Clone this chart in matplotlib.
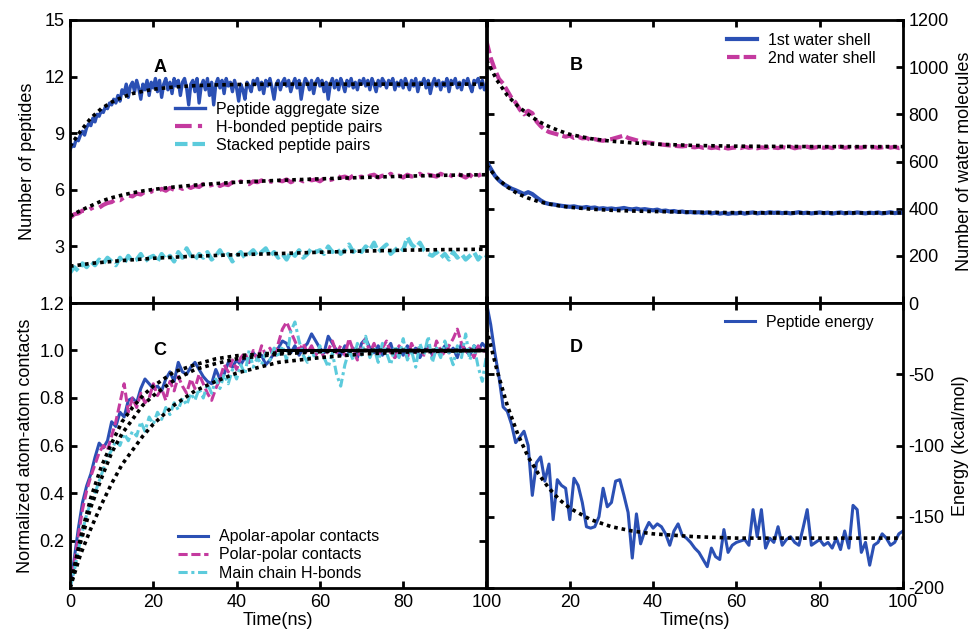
import numpy as np
import matplotlib
matplotlib.use("Agg")
import matplotlib.pyplot as plt

plt.rcParams['font.family'] = ['Liberation Sans', 'DejaVu Sans']
plt.rcParams['axes.unicode_minus'] = False

BLUE = "#2b50b4"
MAGENTA = "#c43a9f"
CYAN = "#5ccbdc"

# ---------------- Panel A data ----------------
tA_fine = np.arange(0, 100.01, 0.5)
agg_size = [
    8.1, 8.4, 8.3, 8.7, 8.6, 8.9, 9.1, 8.9, 9.3, 9.5, 9.4, 9.8, 9.6, 10.0, 9.9, 10.2, 10.1, 10.4, 10.3, 10.6,
    10.5, 10.8, 10.6, 11.0, 10.7, 11.3, 11.1, 11.6, 10.9, 11.5, 11.7, 11.2, 11.8, 11.4, 10.8, 11.6, 11.3, 11.8, 11.0, 11.7,
    11.4, 11.9, 11.2, 11.8, 10.9, 11.6, 11.9, 11.3, 11.7, 11.1, 11.9, 11.5, 11.8, 11.0, 11.7, 11.9, 11.4, 10.5, 11.6, 11.8,
    11.2, 11.9, 10.6, 11.5, 11.8, 11.3, 11.9, 11.0, 11.7, 10.5, 11.6, 11.9, 11.4, 11.8, 11.1, 11.9, 11.5, 11.7, 11.2, 11.8,
    11.4, 10.7, 11.6, 11.3, 10.8, 11.7, 11.5, 11.2, 11.8, 11.6, 11.9, 11.3, 11.7, 11.1, 11.8, 11.5, 11.9, 11.4, 10.8, 11.6,
    11.8, 11.3, 11.7, 11.9, 11.5, 11.8, 11.2, 11.6, 11.9, 11.4, 11.8, 10.8, 11.5, 11.9, 11.7, 11.3, 11.8, 11.1, 11.7, 11.9,
    11.5, 11.8, 11.2, 11.7, 10.8, 11.6, 11.9, 11.4, 11.8, 11.3, 11.9, 11.6, 11.2, 11.8, 11.5, 11.9, 11.4, 11.7, 11.3, 11.8,
    11.6, 11.9, 11.5, 11.8, 11.3, 11.9, 11.6, 11.2, 11.8, 11.5, 11.9, 11.7, 11.4, 11.8, 11.6, 11.9, 11.3, 11.7, 11.5, 11.8,
    11.4, 11.9, 11.6, 11.3, 11.8, 11.5, 11.9, 11.2, 11.7, 11.6, 11.9, 11.4, 11.8, 11.1, 11.6, 11.9, 11.5, 11.8, 11.3, 11.7,
    11.5, 11.9, 11.2, 11.8, 11.6, 11.9, 11.4, 11.7, 11.3, 11.8, 11.6, 11.9, 11.5, 11.2, 11.8, 11.7, 11.9, 11.4, 11.8, 11.3, 11.6,
]
t1 = np.arange(0, 101, 1)
hbond_pairs = [
    4.5, 4.7, 4.75, 4.9, 4.85, 5.0, 5.1, 5.05, 5.2, 5.3,
    5.35, 5.5, 5.45, 5.6, 5.7, 5.65, 5.8, 5.75, 5.9, 5.85,
    5.95, 5.9, 6.05, 5.95, 6.1, 6.0, 6.15, 6.05, 6.2, 6.1,
    6.2, 6.15, 6.3, 6.2, 6.25, 6.35, 6.2, 6.3, 6.25, 6.4,
    6.3, 6.45, 6.35, 6.3, 6.45, 6.4, 6.5, 6.35, 6.45, 6.4,
    6.5, 6.45, 6.55, 6.4, 6.5, 6.55, 6.45, 6.6, 6.5, 6.55,
    6.45, 6.6, 6.5, 6.55, 6.75, 6.65, 6.7, 6.6, 6.75, 6.65,
    6.7, 6.6, 6.75, 6.8, 6.65, 6.75, 6.7, 6.85, 6.7, 6.75,
    6.65, 6.8, 6.7, 6.75, 6.85, 6.7, 6.8, 6.75, 6.7, 6.85,
    6.75, 6.8, 6.7, 6.85, 6.75, 6.65, 6.8, 6.6, 6.75, 6.85, 6.8,
]
stacked_pairs = [
    1.6, 1.9, 1.7, 2.1, 1.9, 2.2, 2.0, 2.3, 2.1, 2.4,
    2.2, 2.0, 2.4, 2.1, 2.5, 2.2, 2.3, 2.6, 2.2, 2.4,
    2.5, 2.2, 2.6, 2.3, 2.5, 2.2, 2.7, 2.4, 2.9, 2.5,
    2.3, 2.6, 2.4, 2.7, 2.3, 2.5, 2.8, 2.4, 2.6, 2.2,
    2.5, 2.7, 2.4, 2.6, 2.8, 2.5, 2.7, 2.9, 2.5, 2.7,
    2.4, 2.6, 2.3, 2.7, 2.5, 2.8, 2.4, 2.6, 2.9, 2.7,
    2.8, 2.6, 3.0, 2.7, 2.9, 2.6, 2.8, 3.1, 2.7, 2.9,
    2.7, 3.0, 2.8, 3.2, 2.7, 2.9, 3.1, 2.6, 2.8, 3.0,
    2.8, 3.5, 3.1, 2.9, 3.2, 2.8, 2.6, 2.5, 2.7, 2.4,
    2.6, 2.3, 2.7, 2.4, 2.6, 2.3, 2.5, 2.7, 2.3, 2.6, 2.5,
]
fit_t = [0, 2.5, 5, 7.5, 10, 12.5, 15, 17.5, 20, 25, 30, 35, 40, 50, 60, 70, 80, 90, 100]
fitA_agg = [8.3, 9.1, 9.8, 10.3, 10.65, 10.9, 11.1, 11.22, 11.33, 11.45, 11.52, 11.56, 11.58, 11.6, 11.6, 11.6, 11.6, 11.6, 11.6]
fitA_hb = [4.6, 4.9, 5.15, 5.4, 5.58, 5.72, 5.84, 5.94, 6.02, 6.15, 6.25, 6.33, 6.4, 6.5, 6.58, 6.65, 6.72, 6.77, 6.8]
fitA_st = [1.95, 2.02, 2.1, 2.15, 2.2, 2.25, 2.29, 2.33, 2.37, 2.43, 2.48, 2.52, 2.56, 2.62, 2.69, 2.75, 2.8, 2.83, 2.85]

# ---------------- Panel B data ----------------
shell2 = [
    1110, 1040, 990, 950, 930, 900, 870, 850, 820, 800,
    815, 805, 770, 750, 735, 725, 720, 715, 710, 705,
    710, 700, 705, 698, 700, 692, 695, 690, 688, 692,
    695, 700, 705, 710, 700, 695, 690, 685, 682, 680,
    678, 675, 672, 670, 668, 667, 665, 664, 666, 662,
    660, 663, 658, 661, 657, 660, 656, 659, 655, 658,
    660, 657, 662, 658, 661, 656, 660, 658, 662, 659,
    657, 661, 658, 662, 656, 660, 659, 663, 657, 660,
    662, 658, 661, 657, 660, 663, 658, 661, 656, 660,
    659, 662, 657, 661, 658, 660, 664, 659, 662, 657, 660,
]
shell1 = [
    600, 570, 540, 520, 505, 495, 485, 478, 470, 462,
    470, 462, 448, 435, 425, 420, 418, 415, 412, 410,
    408, 410, 406, 404, 407, 403, 405, 400, 402, 399,
    401, 398, 400, 403, 399, 397, 400, 396, 398, 395,
    393, 396, 390, 392, 388, 390, 386, 388, 384, 386,
    383, 385, 381, 384, 380, 383, 379, 382, 378, 381,
    380, 383, 379, 382, 384, 380, 383, 381, 385, 382,
    384, 381, 383, 380, 382, 385, 381, 383, 380, 382,
    384, 381, 383, 379, 382, 384, 380, 383, 381, 384,
    382, 380, 383, 381, 384, 380, 382, 385, 381, 383, 382,
]
fitB_shell2 = [1030, 945, 880, 835, 800, 770, 748, 730, 715, 697, 686, 679, 674, 668, 665, 664, 663, 663, 663]
fitB_shell1 = [585, 530, 492, 463, 445, 430, 420, 412, 406, 398, 393, 390, 388, 385, 383, 382, 382, 382, 382]

# ---------------- Panel C data ----------------
apolar = [
    0.0, 0.12, 0.25, 0.36, 0.43, 0.48, 0.55, 0.61, 0.59, 0.62,
    0.70, 0.68, 0.74, 0.72, 0.79, 0.80, 0.78, 0.84, 0.88, 0.86,
    0.84, 0.85, 0.83, 0.88, 0.91, 0.87, 0.95, 0.91, 0.90, 0.93,
    0.95, 0.92, 0.89, 0.87, 0.86, 0.92, 0.88, 0.90, 0.95, 0.93,
    0.96, 0.94, 0.97, 0.95, 0.99, 0.97, 0.98, 0.94, 0.96, 0.99,
    1.01, 1.04, 1.03, 0.99, 1.02, 0.98, 1.01, 1.03, 1.07, 1.04,
    1.01, 0.99, 1.06, 1.03, 1.00, 0.98, 1.02, 0.99, 1.01, 0.97,
    1.03, 1.05, 1.01, 0.99, 1.02, 0.98, 1.00, 1.03, 0.97, 1.01,
    0.98, 1.02, 0.99, 1.01, 0.97, 1.00, 1.02, 0.98, 1.01, 0.99,
    1.02, 0.99, 1.01, 0.97, 1.03, 1.00, 0.98, 1.02, 1.00, 1.03, 1.01,
]
polar = [
    0.0, 0.10, 0.22, 0.33, 0.41, 0.47, 0.52, 0.57, 0.60, 0.58,
    0.64, 0.70, 0.78, 0.86, 0.74, 0.80, 0.76, 0.82, 0.78, 0.80,
    0.86, 0.81, 0.84, 0.79, 0.87, 0.83, 0.89, 0.85, 0.82, 0.88,
    0.84, 0.90, 0.86, 0.82, 0.79, 0.84, 0.88, 0.94, 0.91, 0.96,
    0.92, 0.97, 0.99, 0.95, 1.00, 0.96, 1.02, 0.98, 1.01, 0.97,
    1.03, 1.09, 1.12, 1.08, 1.04, 1.00, 1.03, 0.99, 1.02, 0.98,
    1.01, 0.97, 1.00, 1.04, 0.99, 1.02, 0.98, 1.05, 1.00, 0.96,
    1.02, 1.05, 0.99, 1.03, 0.98, 1.01, 1.04, 0.99, 0.97, 1.02,
    1.00, 0.97, 1.03, 0.99, 1.02, 0.98, 1.01, 0.97, 1.04, 1.00,
    0.98, 1.02, 1.05, 1.09, 1.03, 0.99, 1.01, 0.97, 1.02, 0.99, 1.01,
]
mainchain = [
    0.0, 0.07, 0.16, 0.24, 0.31, 0.36, 0.40, 0.45, 0.50, 0.55,
    0.58, 0.62, 0.60, 0.65, 0.62, 0.66, 0.64, 0.70, 0.66, 0.72,
    0.69, 0.74, 0.71, 0.76, 0.73, 0.78, 0.75, 0.80, 0.77, 0.82,
    0.79, 0.84, 0.80, 0.86, 0.82, 0.88, 0.84, 0.90, 0.86, 0.92,
    0.88, 0.94, 0.90, 1.00, 0.93, 0.97, 0.94, 0.99, 0.96, 1.01,
    0.97, 1.02, 0.96, 1.08, 1.12, 1.04, 0.98, 0.95, 1.00, 0.96,
    1.02, 0.97, 0.93, 0.99, 0.90, 0.85, 0.94, 1.00, 0.96, 1.03,
    0.98, 1.06, 0.97, 1.01, 0.95, 1.03, 0.99, 0.94, 1.02, 0.97,
    1.05, 0.96, 1.00, 0.93, 1.03, 0.98, 1.06, 0.95, 1.01, 0.97,
    1.04, 0.99, 0.94, 1.02, 0.97, 1.07, 0.96, 1.02, 0.93, 0.87, 0.98,
]
fitC_apolar = [0, 0.21, 0.38, 0.51, 0.61, 0.70, 0.76, 0.81, 0.85, 0.91, 0.94, 0.965, 0.978, 0.99, 0.997, 1.0, 1.0, 1.0, 1.0]
fitC_polar = [0, 0.19, 0.34, 0.46, 0.57, 0.65, 0.71, 0.77, 0.81, 0.875, 0.92, 0.945, 0.965, 0.985, 0.995, 1.0, 1.0, 1.0, 1.0]
fitC_main = [0, 0.14, 0.25, 0.35, 0.44, 0.52, 0.58, 0.64, 0.69, 0.77, 0.83, 0.87, 0.905, 0.95, 0.97, 0.985, 0.993, 0.997, 1.0]
plateau_t = [50, 100]
plateau_v = [1.0, 1.0]

# ---------------- Panel D data ----------------
energy = [
    0, -15, -35, -52, -73, -76, -85, -98, -94, -90,
    -100, -135, -112, -108, -125, -113, -152, -124, -128, -130,
    -152, -123, -128, -140, -157, -158, -157, -150, -130, -143,
    -140, -125, -124, -135, -147, -179, -148, -169, -160, -154,
    -158, -155, -157, -162, -170, -160, -155, -163, -165, -168,
    -172, -175, -180, -185, -172, -178, -180, -159, -175, -170,
    -168, -167, -166, -170, -145, -164, -145, -172, -165, -168,
    -157, -170, -166, -164, -168, -170, -158, -145, -170, -168,
    -166, -170, -168, -172, -165, -173, -160, -172, -142, -145,
    -175, -168, -184, -170, -168, -162, -165, -170, -168, -162, -160,
]
fitD = [-18, -47, -72, -92, -108, -120, -130, -138, -144, -152, -157, -160, -162, -164, -165, -165, -165, -165, -165]

# ---------------- Layout ----------------
W, H = 975, 637
fig = plt.figure(figsize=(W / 100, H / 100), dpi=100)
L, R, M = 70 / W, 903 / W, 486.5 / W
T, MID, BOT = 1 - 20 / H, 1 - 303 / H, 1 - 588 / H
axA = fig.add_axes([L, MID, M - L, T - MID])
axB = fig.add_axes([M, MID, R - M, T - MID])
axC = fig.add_axes([L, BOT, M - L, MID - BOT])
axD = fig.add_axes([M, BOT, R - M, MID - BOT])

FIT = dict(color='black', linestyle=(0, (1, 1.1)), linewidth=2.6, zorder=5)
TICKFS = 13
LABFS = 13
LEGFS = 11.5
LEGKW = dict(frameon=False, fontsize=LEGFS, handlelength=1.9, handletextpad=0.7,
             labelspacing=0.2, borderaxespad=0, borderpad=0)

for ax in (axA, axB, axC, axD):
    ax.set_xlim(0, 100)
    for s in ax.spines.values():
        s.set_linewidth(2.0)
    ax.tick_params(direction='in', length=5, width=2, top=True, bottom=True,
                   left=True, right=True, labelsize=TICKFS, pad=4)
    ax.set_xticks([0, 20, 40, 60, 80, 100])

# A
axA.plot(tA_fine, agg_size, color=BLUE, lw=2.4, label='Peptide aggregate size')
axA.plot(t1, hbond_pairs, color=MAGENTA, lw=3.0, linestyle=(0, (4, 1.5, 1, 1.5)), label='H-bonded peptide pairs')
axA.plot(t1, stacked_pairs, color=CYAN, lw=3.0, linestyle=(0, (3, 1.2)), label='Stacked peptide pairs')
axA.plot(fit_t, fitA_agg, **FIT)
axA.plot(fit_t, fitA_hb, **FIT)
axA.plot(fit_t, fitA_st, **FIT)
axA.set_ylim(0, 15)
axA.set_yticks([3, 6, 9, 12, 15])
axA.tick_params(labelbottom=False)
axA.set_ylabel('Number of peptides', fontsize=LABFS, labelpad=6)
axA.text(21.5, 12.5, 'A', fontsize=13, fontweight='bold', ha='center', va='center')
axA.legend(loc='upper left', bbox_to_anchor=(0.252, 0.712), **LEGKW)

# B
axB.plot(t1, shell1, color=BLUE, lw=3.0, label='1st water shell')
axB.plot(t1, shell2, color=MAGENTA, lw=3.0, linestyle=(0, (3, 1)), label='2nd water shell')
axB.plot(fit_t, fitB_shell2, **FIT)
axB.plot(fit_t, fitB_shell1, **FIT)
axB.set_ylim(0, 1200)
axB.set_yticks(np.arange(0, 1201, 200))
axB.tick_params(labelleft=False, labelright=True, labelbottom=False)
axB.yaxis.set_label_position('right')
axB.set_ylabel('Number of water molecules', fontsize=LABFS, labelpad=5)
axB.text(21.6, 1005, 'B', fontsize=13, fontweight='bold', ha='center', va='center')
axB.legend(loc='upper left', bbox_to_anchor=(0.577, 0.955), **LEGKW)

# C
axC.plot(t1, apolar, color=BLUE, lw=2.2, label='Apolar-apolar contacts')
axC.plot(t1, polar, color=MAGENTA, lw=2.2, linestyle=(0, (3, 1.2)), label='Polar-polar contacts')
axC.plot(t1, mainchain, color=CYAN, lw=2.2, linestyle=(0, (3, 1.2, 1, 1.2)), label='Main chain H-bonds')
axC.plot(fit_t, fitC_apolar, **FIT)
axC.plot(fit_t, fitC_polar, **FIT)
axC.plot(fit_t, fitC_main, **FIT)
axC.plot(plateau_t, plateau_v, color='black', lw=2.2, zorder=5)
axC.set_ylim(0, 1.2)
axC.set_yticks([0.2, 0.4, 0.6, 0.8, 1.0, 1.2])
axC.set_yticklabels(['0.2', '0.4', '0.6', '0.8', '1.0', '1.2'])
axC.set_ylabel('Normalized atom-atom contacts', fontsize=LABFS, labelpad=4)
axC.set_xlabel('Time(ns)', fontsize=LABFS, labelpad=1)
axC.text(21.5, 1.0, 'C', fontsize=13, fontweight='bold', ha='center', va='center')
axC.legend(loc='upper left', bbox_to_anchor=(0.259, 0.206), **LEGKW)

# D
axD.plot(t1, energy, color=BLUE, lw=2.2, label='Peptide energy')
axD.plot(fit_t, fitD, **FIT)
axD.set_ylim(-200, 0)
axD.set_yticks([-200, -150, -100, -50])
axD.tick_params(labelleft=False, labelright=True)
axD.yaxis.set_label_position('right')
axD.set_ylabel('Energy (kcal/mol)', fontsize=LABFS, labelpad=5)
axD.set_xlabel('Time(ns)', fontsize=LABFS, labelpad=1)
axD.set_xticks([20, 40, 60, 80, 100])
axD.text(21.6, -31, 'D', fontsize=13, fontweight='bold', ha='center', va='center')
axD.legend(loc='upper left', bbox_to_anchor=(0.572, 0.958), **LEGKW)

fig.savefig('out.png', dpi=100)
